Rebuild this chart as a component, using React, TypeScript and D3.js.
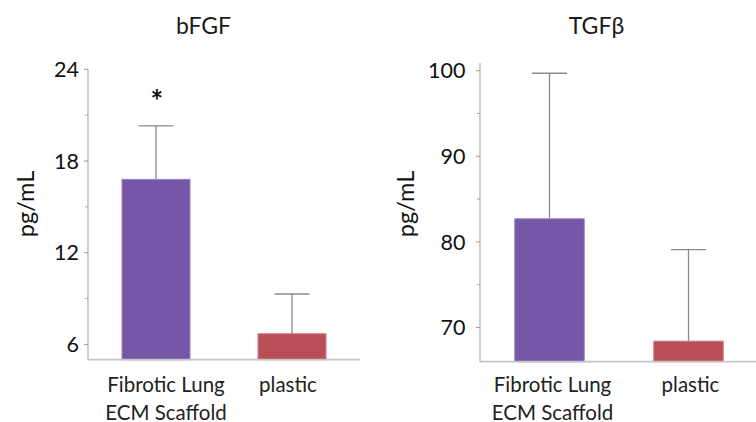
import React from "react";
import * as d3 from "d3";

const categories = ["Fibrotic Lung\nECM Scaffold", "plastic"];
const bfgfMeans = [16.8, 6.7];
const bfgfErrors = [3.5, 2.6];
const bfgfTicks = [6, 12, 18, 24];
const bfgfMinorTicks = [9, 15, 21];
const tgfMeans = [82.7, 68.4];
const tgfErrors = [17.0, 10.7];
const tgfTicks = [70, 80, 90, 100];
const tgfMinorTicks = [75, 85, 95];
const significance = ["*", ""];

const FONT = "Lato, 'DejaVu Sans', sans-serif";
const COLORS = ["#7656a6", "#bb4d57"];
const STROKES = ["#9b84c6", "#d27d86"];

type PanelProps = {
  title: string;
  means: number[];
  errors: number[];
  ticks: number[];
  minor: number[];
  domain: [number, number];
  axisTop: number;
  x0: number;
  x1: number;
  yBottom: number;
  yTop: number;
  tickLabelRight: number;
  titleX: number;
  ylabelX: number;
  labelOffsets: number[];
  stars?: string[];
};

function Panel(p: PanelProps) {
  const y = d3.scaleLinear().domain(p.domain).range([p.yBottom, p.yTop]);
  const x = d3
    .scaleBand<string>()
    .domain(categories)
    .range([p.x0, p.x1])
    .paddingInner(0.5)
    .paddingOuter(0.25);
  const bw = x.bandwidth();
  const capHalf = 17.5;
  return (
    <g>
      <text x={p.titleX} y={33.5} textAnchor="middle" fontSize={23} fill="#1a1a1a" fontFamily={FONT}>
        {p.title}
      </text>
      <text
        transform={`translate(${p.ylabelX},${204}) rotate(-90)`}
        textAnchor="middle"
        fontSize={23.5}
        fill="#111"
        fontFamily={FONT}
      >
        pg/mL
      </text>
      {/* y axis */}
      <line x1={p.x0} x2={p.x0} y1={y(p.axisTop)} y2={y(p.domain[0])} stroke="#b5b5b5" strokeWidth={1.3} />
      {p.ticks.map((t) => (
        <g key={"t" + t}>
          <line x1={p.x0 - 4} x2={p.x0} y1={y(t)} y2={y(t)} stroke="#999" strokeWidth={1} />
          <text
            x={p.tickLabelRight}
            y={y(t)}
            dy="0.36em"
            textAnchor="end"
            fontSize={21.5}
            fill="#111"
            fontFamily={FONT}
          >
            {t}
          </text>
        </g>
      ))}
      {p.minor.map((t) => (
        <line key={"m" + t} x1={p.x0 - 3} x2={p.x0} y1={y(t)} y2={y(t)} stroke="#aaa" strokeWidth={1} />
      ))}
      {/* error bars */}
      {categories.map((c, i) => {
        const cx = (x(c) as number) + bw / 2;
        const top = y(p.means[i] + p.errors[i]);
        return (
          <g key={"e" + i}>
            <line x1={cx} x2={cx} y1={y(p.means[i])} y2={top} stroke="#8a8a8a" strokeWidth={1.3} />
            <line x1={cx - capHalf} x2={cx + capHalf} y1={top} y2={top} stroke="#8a8a8a" strokeWidth={1.3} />
          </g>
        );
      })}
      {/* bars */}
      {categories.map((c, i) => (
        <rect
          key={"b" + i}
          x={x(c) as number}
          width={bw}
          y={y(p.means[i])}
          height={y(p.domain[0]) - y(p.means[i])}
          fill={COLORS[i]}
          stroke={STROKES[i]}
          strokeWidth={1}
        />
      ))}
      {/* x axis */}
      <line x1={p.x0} x2={p.x1} y1={p.yBottom} y2={p.yBottom} stroke="#c4c4c4" strokeWidth={1.8} />
      {categories.map((c, i) => {
        const cx = (x(c) as number) + bw / 2 + p.labelOffsets[i];
        return (
          <text key={"l" + i} textAnchor="middle" fontSize={20.5} fill="#222" fontFamily={FONT}>
            {c.split("\n").map((line, j) => (
              <tspan key={j} x={cx} y={392 + j * 27.5}>
                {line}
              </tspan>
            ))}
          </text>
        );
      })}
      {p.stars &&
        categories.map((c, i) =>
          p.stars![i] ? (
            <text
              key={"s" + i}
              x={(x(c) as number) + bw / 2 + 1}
              y={112}
              textAnchor="middle"
              fontSize={30}
              fontWeight={700}
              fill="#111"
              fontFamily={FONT}
            >
              {p.stars![i]}
            </text>
          ) : null
        )}
    </g>
  );
}

export default function App() {
  return (
    <svg width={756} height={422} style={{ position: "absolute", left: 0, top: 0, background: "#fff" }}>
      <Panel
        title="bFGF"
        means={bfgfMeans}
        errors={bfgfErrors}
        ticks={bfgfTicks}
        minor={bfgfMinorTicks}
        domain={[5, 24]}
        axisTop={24}
        x0={88}
        x1={360}
        yBottom={359.7}
        yTop={69.3}
        tickLabelRight={79}
        titleX={203.5}
        ylabelX={33.5}
        labelOffsets={[10, -4]}
        stars={significance}
      />
      <Panel
        title="TGFβ"
        means={tgfMeans}
        errors={tgfErrors}
        ticks={tgfTicks}
        minor={tgfMinorTicks}
        domain={[66, 100]}
        axisTop={100.9}
        x0={480}
        x1={758}
        yBottom={361.7}
        yTop={70.7}
        tickLabelRight={465.5}
        titleX={596.5}
        ylabelX={414}
        labelOffsets={[3, 2]}
      />
    </svg>
  );
}
